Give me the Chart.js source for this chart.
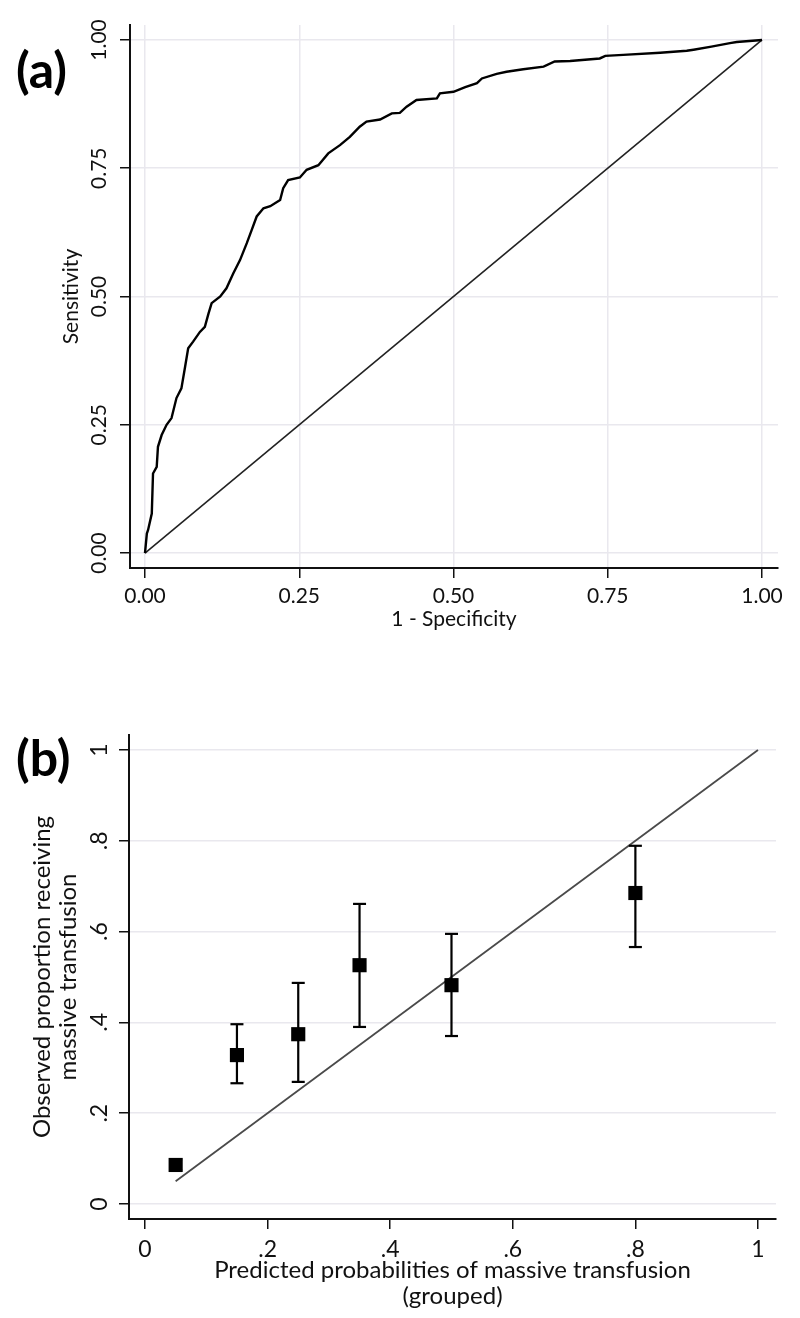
<!DOCTYPE html>
<html>
<head>
<meta charset="utf-8">
<script src="https://cdn.jsdelivr.net/npm/chart.js@4.4.1/dist/chart.umd.min.js"></script>
<style>
  body { margin: 0; background: #fff; }
  .panel { position: relative; width: 800px; height: 659px; }
  .tag { position: absolute; left: 16px; font: bold 50px/1 Lato, sans-serif; color: #000; }
</style>
</head>
<body>
<div class="panel">
  <div class="tag" style="top:44px">(a)</div>
  <canvas id="rocChart" width="800" height="659"></canvas>
</div>
<div class="panel">
  <div class="tag" style="top:73px">(b)</div>
  <canvas id="calChart" width="800" height="659"></canvas>
</div>
<script>
// ========================================
// (a) ROC curve data
// ========================================
const rocFpr = [0, 0.003, 0.005, 0.011, 0.013, 0.019, 0.021, 0.027, 0.035, 0.043,
  0.051, 0.059, 0.065, 0.070, 0.078, 0.089, 0.097, 0.103, 0.108, 0.122,
  0.132, 0.143, 0.154, 0.165, 0.173, 0.181, 0.192, 0.203, 0.219, 0.224,
  0.232, 0.251, 0.262, 0.281, 0.297, 0.316, 0.332, 0.348, 0.359, 0.381,
  0.400, 0.413, 0.424, 0.440, 0.473, 0.478, 0.500, 0.519, 0.538, 0.546,
  0.570, 0.586, 0.613, 0.646, 0.664, 0.689, 0.737, 0.746, 0.775, 0.835,
  0.878, 0.889, 0.918, 0.948, 0.959, 1];
const rocTpr = [0, 0.038, 0.045, 0.077, 0.155, 0.168, 0.207, 0.230, 0.250, 0.263,
  0.302, 0.321, 0.363, 0.399, 0.412, 0.431, 0.441, 0.467, 0.487, 0.500,
  0.516, 0.545, 0.571, 0.604, 0.630, 0.656, 0.672, 0.676, 0.688, 0.711,
  0.727, 0.732, 0.747, 0.756, 0.779, 0.795, 0.811, 0.831, 0.841, 0.845,
  0.857, 0.858, 0.870, 0.883, 0.886, 0.896, 0.899, 0.908, 0.916, 0.925,
  0.934, 0.938, 0.943, 0.948, 0.958, 0.959, 0.964, 0.969, 0.971, 0.975,
  0.979, 0.981, 0.987, 0.994, 0.996, 1];
const rocTicks = [0, 0.25, 0.5, 0.75, 1];

// ========================================
// (b) Calibration data
// ========================================
const predGroups = [0.05, 0.15, 0.25, 0.35, 0.5, 0.8];
const observed   = [0.086, 0.328, 0.374, 0.526, 0.482, 0.685];
const lowerCI    = [0.075, 0.266, 0.269, 0.390, 0.370, 0.566];
const upperCI    = [0.098, 0.396, 0.487, 0.661, 0.595, 0.789];
const refLineX   = [0.05, 1];
const calTicks   = [0, 0.2, 0.4, 0.6, 0.8, 1];

Chart.defaults.font.family = 'Lato, sans-serif';
Chart.defaults.font.size = 21;
Chart.defaults.color = '#111';

const GRID = '#e9e8ee';

function axisBase(ticks, fmt, size) {
  return {
    type: 'linear',
    afterBuildTicks: s => { s.ticks = ticks.map(v => ({ value: v })); },
    border: { display: true, color: '#111', width: 2 },
    grid: { color: GRID, lineWidth: 1.5, tickColor: '#111', tickWidth: 1.5, tickLength: 10 },
    ticks: { autoSkip: false, callback: fmt, font: { size } }
  };
}

// ROC chart
function drawRoc() {
  const x = axisBase(rocTicks, v => v.toFixed(2), 21);
  x.min = -0.0243; x.max = 1.0259;
  x.ticks.padding = 6;
  x.afterFit = s => { s.height = 91; };
  x.title = { display: true, text: '1 - Specificity', font: { size: 21, lineHeight: 1.25 }, padding: { top: 0, bottom: 27 } };

  const y = axisBase(rocTicks, v => v.toFixed(2), 21);
  y.min = -0.0292; y.max = 1.0292;
  y.ticks.minRotation = 90; y.ticks.maxRotation = 90;
  y.ticks.crossAlign = 'center'; y.ticks.padding = 0;
  y.afterFit = s => { s.width = 130; };
  y.title = { display: true, text: 'Sensitivity', font: { size: 21, lineHeight: 1.25 }, padding: { top: 58, bottom: 0 } };

  new Chart(document.getElementById('rocChart'), {
    type: 'scatter',
    data: {
      datasets: [{
        data: rocFpr.map((f, i) => ({ x: f, y: rocTpr[i] })),
        showLine: true, borderColor: '#000', borderWidth: 2.4, pointRadius: 0, tension: 0
      }, {
        data: [{ x: 0, y: 0 }, { x: 1, y: 1 }],
        showLine: true, borderColor: '#222', borderWidth: 1.6, pointRadius: 0
      }]
    },
    options: {
      responsive: false, animation: false,
      layout: { padding: { left: 0, right: 22, top: 25, bottom: 0 } },
      plugins: { legend: { display: false }, tooltip: { enabled: false } },
      scales: { x, y }
    }
  });
}

// Calibration chart
function drawCalibration() {
  const fmt = v => v === 0 ? '0' : v === 1 ? '1' : v.toFixed(1).replace('0.', '.');

  const x = axisBase(calTicks, fmt, 23);
  x.min = -0.0261; x.max = 1.0294;
  x.grid.drawOnChartArea = false;
  x.ticks.padding = 7;
  x.afterFit = s => { s.height = 99; };
  x.title = { display: true, text: ['Predicted probabilities of massive transfusion', '(grouped)'],
    font: { size: 24, lineHeight: 1.08 }, padding: { top: 0, bottom: 9 } };

  const y = axisBase(calTicks, fmt, 23);
  y.min = -0.033; y.max = 1.033;
  y.ticks.minRotation = 90; y.ticks.maxRotation = 90;
  y.ticks.crossAlign = 'center'; y.ticks.padding = 10;
  y.afterFit = s => { s.width = 129; };
  y.title = { display: true, text: ['Observed proportion receiving', 'massive transfusion'],
    font: { size: 24, lineHeight: 1.08 }, padding: { top: 29, bottom: 0 } };

  // error bars: two points per group with a gap between groups
  const errData = [];
  predGroups.forEach((g, i) => {
    errData.push({ x: g, y: lowerCI[i] }, { x: g, y: upperCI[i] }, { x: g, y: null });
  });

  new Chart(document.getElementById('calChart'), {
    type: 'scatter',
    data: {
      datasets: [{
        data: predGroups.map((g, i) => ({ x: g, y: observed[i] })),
        pointStyle: 'rect', pointRadius: 10, backgroundColor: '#000', borderColor: '#000', borderWidth: 0
      }, {
        data: errData,
        showLine: true, spanGaps: false, borderColor: '#000', borderWidth: 2.2,
        pointStyle: 'line', pointRadius: 6.5, pointBorderColor: '#000', pointBorderWidth: 2.2
      }, {
        data: refLineX.map(v => ({ x: v, y: v })),
        showLine: true, borderColor: '#4a4a4a', borderWidth: 1.8, pointRadius: 0
      }]
    },
    options: {
      responsive: false, animation: false,
      layout: { padding: { left: 0, right: 24, top: 76, bottom: 0 } },
      plugins: { legend: { display: false }, tooltip: { enabled: false } },
      scales: { x, y }
    }
  });
}

document.addEventListener('DOMContentLoaded', () => {
  drawRoc();
  drawCalibration();
});
</script>
</body>
</html>
